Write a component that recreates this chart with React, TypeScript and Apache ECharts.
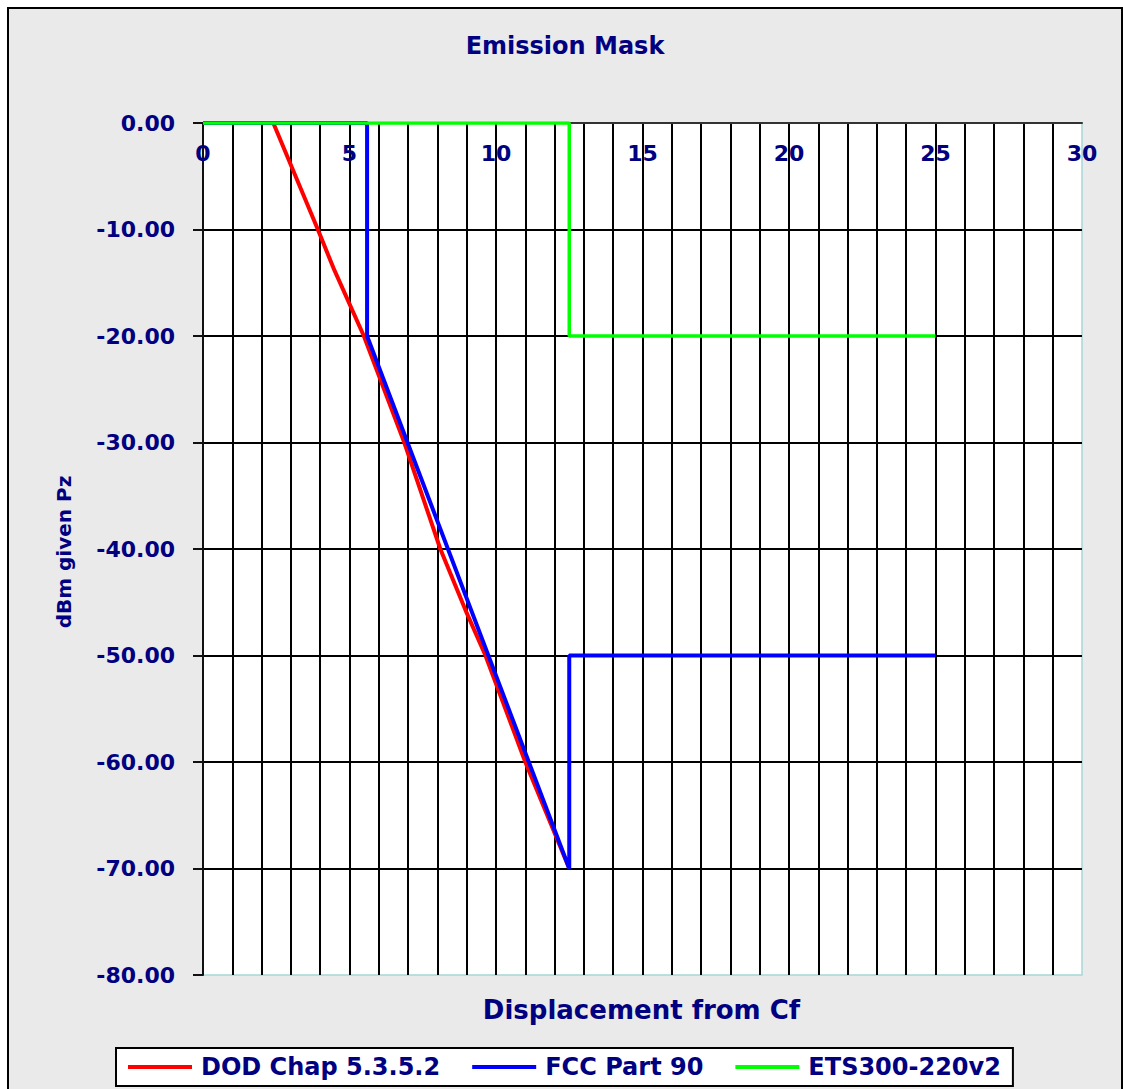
import React, { useEffect, useRef } from "react";
import * as echarts from "echarts";

// ---- data ----
const seriesNames = ["DOD Chap 5.3.5.2", "FCC Part 90", "ETS300-220v2"];

const redX = [0, 2.4, 3.92, 4.45, 5.49, 6.87, 8.1, 9.0, 9.64, 11.0, 12.5];
const redY = [0, 0, -10, -13.6, -20, -30, -40, -46, -50, -60, -70];

const blueX = [0, 5.6, 5.6, 12.5, 12.5, 25];
const blueY = [0, 0, -20, -70, -50, -50];

const greenX = [0, 12.5, 12.5, 25];
const greenY = [0, 0, -20, -20];

const xMin = 0;
const xMax = 30;
const yMin = -80;
const yMax = 0;

const NAVY = "#000080";
const FONT = "DejaVu Sans";

function pairs(xs: number[], ys: number[]) {
  return xs.map((x, i) => [x, ys[i]]);
}

export default function App() {
  const ref = useRef<HTMLDivElement>(null);

  useEffect(() => {
    document.body.style.overflow = "hidden";
    if (!ref.current) return;
    const chart = echarts.init(ref.current, null, { renderer: "svg" });

    const lineSeries = (name: string, data: number[][], color: string, width: number) => ({
      name,
      type: "line",
      data,
      showSymbol: false,
      symbol: "none",
      lineStyle: { color, width },
      itemStyle: { color },
      emphasis: { disabled: true },
    });

    chart.setOption({
      animation: false,
      backgroundColor: "transparent",
      title: {
        text: "Emission Mask",
        left: "center",
        top: 20,
        textStyle: { color: NAVY, fontFamily: FONT, fontWeight: "bold", fontSize: 24 },
      },
      grid: {
        left: 194,
        top: 114,
        width: 879,
        height: 852,
        show: true,
        backgroundColor: "#ffffff",
        borderColor: "#a6d8d8",
        borderWidth: 1.5,
      },
      legend: {
        left: 107,
        top: 1039,
        orient: "horizontal",
        backgroundColor: "#ffffff",
        borderColor: "#000000",
        borderWidth: 2,
        borderRadius: 0,
        padding: [7, 12, 7, 12],
        itemGap: 32,
        itemWidth: 64,
        itemHeight: 4,
        icon: "rect",
        selectedMode: false,
        textStyle: {
          color: NAVY,
          fontFamily: FONT,
          fontWeight: "bold",
          fontSize: 24,
          lineHeight: 24,
          padding: [0, 0, 0, 4],
        },
        data: seriesNames,
      },
      xAxis: {
        type: "value",
        min: xMin,
        max: xMax,
        interval: 1,
        position: "top",
        axisLine: { show: true, onZero: false, lineStyle: { color: "#333333", width: 2 } },
        axisTick: { show: false },
        axisLabel: {
          inside: true,
          margin: 19,
          color: NAVY,
          fontFamily: FONT,
          fontWeight: "bold",
          fontSize: 22,
          formatter: (v: number) => (v % 5 === 0 ? String(v) : ""),
        },
        splitLine: {
          show: true,
          showMinLine: false,
          showMaxLine: false,
          lineStyle: { color: "#000000", width: 2 },
        },
      },
      yAxis: {
        type: "value",
        min: yMin,
        max: yMax,
        interval: 10,
        axisLine: { show: true, onZero: false, lineStyle: { color: "#111111", width: 2 } },
        axisTick: { show: true, inside: false, length: 10, lineStyle: { color: "#111111", width: 2 } },
        axisLabel: {
          margin: 28,
          color: NAVY,
          fontFamily: FONT,
          fontWeight: "bold",
          fontSize: 22,
          formatter: (v: number) => v.toFixed(2),
        },
        splitLine: {
          show: true,
          showMinLine: false,
          showMaxLine: false,
          lineStyle: { color: "#000000", width: 2 },
        },
      },
      graphic: [
        {
          type: "text",
          x: 632.5,
          y: 1001,
          style: {
            text: "Displacement from Cf",
            fill: NAVY,
            font: `bold 26px "${FONT}"`,
            align: "center",
            verticalAlign: "middle",
          },
        },
        {
          type: "text",
          x: 55,
          y: 543,
          rotation: Math.PI / 2,
          style: {
            text: "dBm given Pz",
            fill: NAVY,
            font: `bold 20px "${FONT}"`,
            align: "center",
            verticalAlign: "middle",
          },
        },
      ],
      series: [
        lineSeries(seriesNames[0], pairs(redX, redY), "#ff0000", 4),
        lineSeries(seriesNames[1], pairs(blueX, blueY), "#0000ff", 4),
        lineSeries(seriesNames[2], pairs(greenX, greenY), "#00ff00", 3.5),
      ],
    });

    return () => {
      chart.dispose();
    };
  }, []);

  return (
    <div
      style={{
        position: "fixed",
        left: 7,
        top: 7,
        width: 1116,
        height: 1100,
        border: "2px solid #000",
        boxSizing: "border-box",
        background: "#eaeaea",
      }}
    >
      <div ref={ref} style={{ width: 1112, height: 1096 }} />
    </div>
  );
}
